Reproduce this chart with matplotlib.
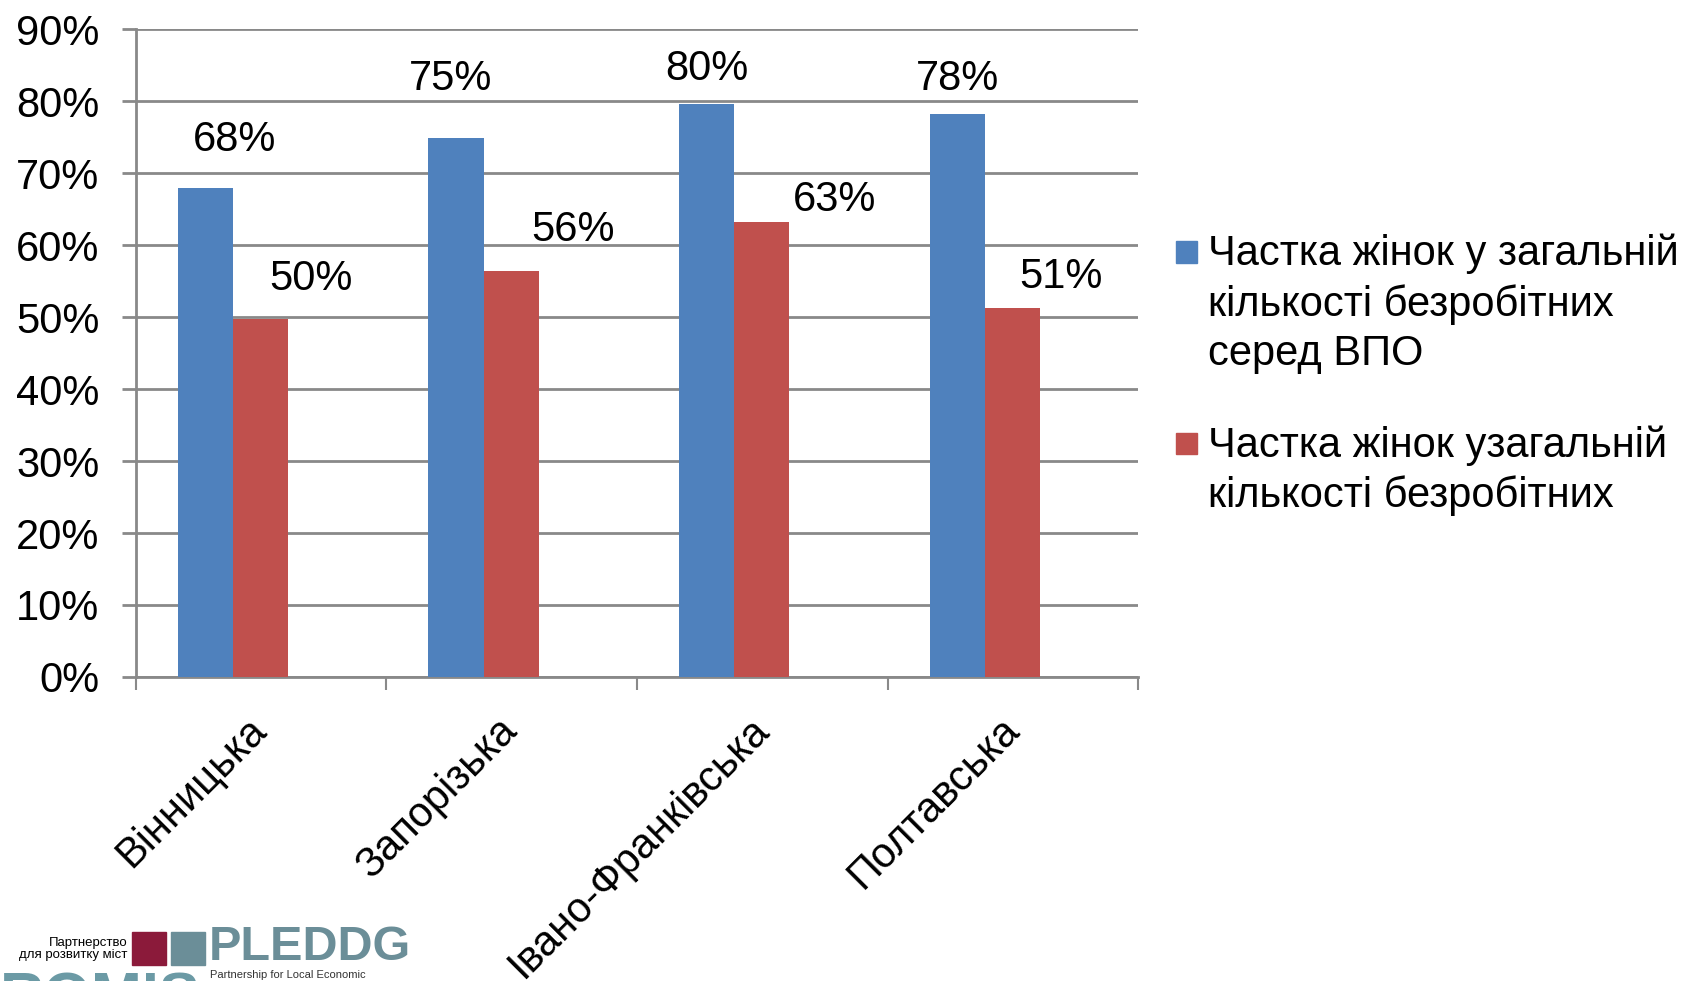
import matplotlib
matplotlib.use("Agg")
import matplotlib.pyplot as plt
from matplotlib.patches import Rectangle
from matplotlib.ticker import PercentFormatter
import numpy as np

plt.rcParams['font.family'] = ['Liberation Sans', 'DejaVu Sans']

regions = ['Вінницька', 'Запорізька', 'Івано-Франківська', 'Полтавська']
share_idp = [0.680, 0.749, 0.797, 0.782]      # частка жінок серед безробітних ВПО
share_total = [0.498, 0.564, 0.633, 0.513]    # частка жінок серед усіх безробітних
legend_labels = ['Частка жінок у загальній\nкількості безробітних\nсеред ВПО',
                 'Частка жінок узагальній\nкількості безробітних']

BLUE = '#4F81BD'
RED = '#C0504D'
GRID = '#898989'
FS = 30

# label offsets (pixels) from the bar top centre, as placed in the original
blue_off = [(29, 48), (-5, 59), (0, 35), (0, 35)]
red_off = [(51, 40), (62, 41), (73, 22), (48, 31)]

fig = plt.figure(figsize=(16.94, 9.81), dpi=100)
ax = fig.add_axes([0.080, 0.310, 0.592, 0.660])

x = np.arange(len(regions))
w = 0.22
shift = -0.112
b1 = ax.bar(x + shift - w / 2, share_idp, w, color=BLUE, zorder=3)
b2 = ax.bar(x + shift + w / 2, share_total, w, color=RED, zorder=3)

for bars, vals, offs in [(b1, share_idp, blue_off), (b2, share_total, red_off)]:
    for bar, v, (dx, dy) in zip(bars, vals, offs):
        ax.annotate(f'{round(v * 100):.0f}%',
                    (bar.get_x() + bar.get_width() / 2, v),
                    xytext=(dx, dy), textcoords='offset pixels',
                    ha='center', va='center', fontsize=FS)

ax.set_xlim(-0.5, len(regions) - 0.5)
ax.set_ylim(0, 0.9)
ax.set_yticks(np.arange(0, 0.91, 0.1))
ax.yaxis.set_major_formatter(PercentFormatter(1.0, decimals=0))
ax.grid(axis='y', color=GRID, linewidth=2, zorder=0)
ax.set_axisbelow(True)

ax.set_xticks(x)
ax.set_xticklabels(regions, rotation=45, ha='right', va='center',
                   rotation_mode='anchor', fontsize=FS)
ax.set_xticks(np.arange(-0.5, len(regions), 1), minor=True)
ax.tick_params(axis='x', which='major', length=0, pad=34)
ax.tick_params(axis='x', which='minor', length=9, width=1.5, color=GRID)
ax.tick_params(axis='y', length=10, width=2, color=GRID, pad=16, labelsize=FS)

for s in ['top', 'right']:
    ax.spines[s].set_visible(False)
ax.spines['left'].set_color(GRID)
ax.spines['left'].set_linewidth(2)
ax.spines['bottom'].set_color(GRID)
ax.spines['bottom'].set_linewidth(2)

# legend, drawn by hand so that the swatch sits on the first line
leg_y = [0.743, 0.548]
for lab, col, yy in zip(legend_labels, [BLUE, RED], leg_y):
    fig.patches.append(Rectangle((0.694, yy - 0.011), 0.0128, 0.022,
                                 transform=fig.transFigure, color=col))
    fig.text(0.713, yy + 0.0185, lab, fontsize=FS, va='top', ha='left',
             linespacing=1.3)

# logo at the bottom left
fig.text(0.075, 0.033, 'Партнерство\nдля розвитку міст', fontsize=9.5,
         ha='right', va='center', linespacing=1.0)
fig.patches.append(Rectangle((0.078, 0.016), 0.020, 0.034,
                             transform=fig.transFigure, color='#8B1A3A'))
fig.patches.append(Rectangle((0.101, 0.016), 0.020, 0.034,
                             transform=fig.transFigure, color='#6B8E98'))
fig.text(0.123, 0.034, 'PLEDDG', fontsize=35, fontweight='bold',
         color='#6B8E98', ha='left', va='center')
fig.text(0.124, 0.001, 'Partnership for Local Economic', fontsize=8,
         color='#333333', ha='left', va='bottom')
fig.text(0.0, 0.010, 'ROMIS', fontsize=44, fontweight='bold',
         color='#6B9AA5', ha='left', va='top')

fig.savefig('out.png', dpi=100)
